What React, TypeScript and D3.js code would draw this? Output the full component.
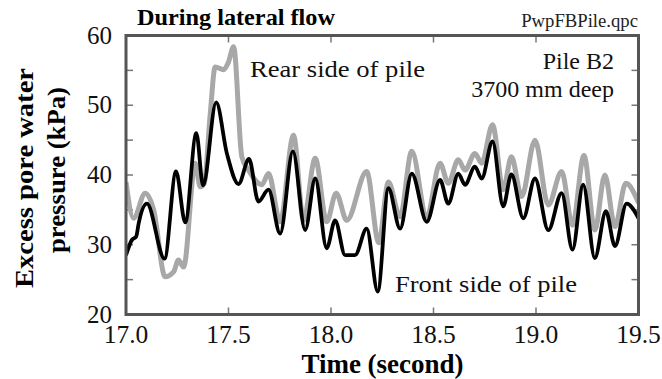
import React from "react";
import * as d3 from "d3";

const frontTime = [17.0, 17.029, 17.05, 17.062, 17.102, 17.188, 17.244, 17.289, 17.343, 17.376, 17.44, 17.492, 17.549, 17.6, 17.646, 17.695, 17.752, 17.814, 17.874, 17.923, 17.979, 18.02, 18.069, 18.117, 18.174, 18.228, 18.28, 18.337, 18.394, 18.467, 18.532, 18.572, 18.621, 18.654, 18.702, 18.735, 18.788, 18.84, 18.88, 18.938, 18.995, 19.06, 19.125, 19.178, 19.23, 19.287, 19.341, 19.385, 19.442, 19.5];
const frontPwp = [28.5, 30.7, 31.2, 33.1, 35.9, 28.0, 40.5, 33.2, 46.0, 38.5, 50.4, 43.1, 38.7, 42.3, 36.2, 37.9, 31.6, 43.4, 32.1, 39.5, 29.5, 33.5, 28.5, 28.5, 32.3, 23.3, 38.1, 32.3, 40.2, 33.3, 39.3, 35.9, 40.2, 38.6, 41.2, 39.5, 44.8, 35.5, 40.1, 33.8, 39.5, 32.1, 37.4, 29.3, 38.6, 28.1, 34.8, 29.8, 35.9, 33.8];

const rearTime = [17.0, 17.037, 17.094, 17.135, 17.191, 17.232, 17.256, 17.281, 17.338, 17.362, 17.382, 17.411, 17.435, 17.476, 17.5, 17.525, 17.565, 17.598, 17.663, 17.695, 17.752, 17.817, 17.866, 17.923, 17.979, 18.025, 18.077, 18.174, 18.233, 18.28, 18.337, 18.394, 18.467, 18.532, 18.572, 18.621, 18.654, 18.702, 18.735, 18.788, 18.84, 18.88, 18.93, 18.995, 19.06, 19.125, 19.178, 19.234, 19.287, 19.336, 19.385, 19.438, 19.5];
const rearPwp = [39.0, 33.8, 37.4, 35.0, 25.4, 26.1, 27.8, 26.8, 41.7, 38.3, 38.8, 48.8, 55.5, 55.1, 56.2, 58.4, 42.6, 40.7, 38.6, 40.2, 33.3, 45.7, 33.5, 42.4, 33.3, 37.4, 33.5, 40.5, 30.3, 39.0, 34.0, 43.4, 34.0, 41.7, 38.8, 42.2, 40.7, 43.1, 41.7, 47.2, 37.9, 42.6, 36.9, 45.0, 35.7, 40.5, 32.8, 42.8, 32.1, 40.0, 32.6, 38.8, 36.0];

const xTicks = [17.0, 17.5, 18.0, 18.5, 19.0, 19.5];
const yTicks = [20, 30, 40, 50, 60];
const yMinorTicks = [25, 30, 35, 40, 45, 50, 55];
const xInnerTicks = [17.5, 18.0, 18.5, 19.0];

const W = 662;
const H = 379;
const left = 126;
const right = 638.5;
const top = 35.5;
const bottom = 314.5;

const SERIF = '"Liberation Serif", "Times New Roman", Times, "DejaVu Serif", serif';

export default function App() {
  const x = d3.scaleLinear().domain([17, 19.5]).range([left, right]);
  const y = d3.scaleLinear().domain([20, 60]).range([bottom, top]);

  const line = d3
    .line<[number, number]>()
    .x((d) => x(d[0]))
    .y((d) => y(d[1]))
    .curve(d3.curveMonotoneX);

  const front = frontTime.map((t, i) => [t, frontPwp[i]] as [number, number]);
  const rear = rearTime.map((t, i) => [t, rearPwp[i]] as [number, number]);

  const tickLen = 7;
  const ts = { fontFamily: SERIF };

  return (
    <svg
      width={W}
      height={H}
      style={{ position: "absolute", left: 0, top: 0, background: "#fff", fontFamily: SERIF }}
    >
      <defs>
        <clipPath id="plot">
          <rect x={left} y={top} width={right - left} height={bottom - top} />
        </clipPath>
      </defs>
      <rect x={0} y={0} width={W} height={H} fill="#fff" />

      {xInnerTicks.map((t) => (
        <g key={"xt" + t} stroke="#777" strokeWidth={1.5}>
          <line x1={x(t)} x2={x(t)} y1={bottom} y2={bottom - tickLen} />
          <line x1={x(t)} x2={x(t)} y1={top} y2={top + tickLen} />
        </g>
      ))}
      {yMinorTicks.map((v) => (
        <g key={"yt" + v} stroke="#777" strokeWidth={1.5}>
          <line x1={left} x2={left + tickLen} y1={y(v)} y2={y(v)} />
          <line x1={right} x2={right - tickLen} y1={y(v)} y2={y(v)} />
        </g>
      ))}

      <g clipPath="url(#plot)">
        <path d={line(rear) || ""} fill="none" stroke="#a8a8a8" strokeWidth={5} strokeLinejoin="round" />
        <path d={line(front) || ""} fill="none" stroke="#000" strokeWidth={3.8} strokeLinejoin="round" />
      </g>

      <rect x={left} y={top} width={right - left} height={bottom - top} fill="none" stroke="#555" strokeWidth={3} />

      {yTicks.map((v) => (
        <text key={"yl" + v} style={ts} x={112} y={y(v)} dy="0.32em" textAnchor="end" fontSize={25} fill="#111">
          {v}
        </text>
      ))}
      {xTicks.map((t) => (
        <text key={"xl" + t} style={ts} x={x(t)} y={343} textAnchor="middle" fontSize={25.5} fill="#111">
          {t.toFixed(1)}
        </text>
      ))}

      <text style={ts} x={382.5} y={373} textAnchor="middle" fontSize={27} fontWeight="bold" fill="#000">
        Time (second)
      </text>
      <text
        style={ts}
        transform="translate(33,178) rotate(-90)"
        textAnchor="middle"
        fontSize={26}
        fontWeight="bold"
        fill="#000"
        textLength={220}
        lengthAdjust="spacingAndGlyphs"
      >
        Excess pore water
      </text>
      <text
        style={ts}
        transform="translate(65,170) rotate(-90)"
        textAnchor="middle"
        fontSize={26}
        fontWeight="bold"
        fill="#000"
        textLength={166}
        lengthAdjust="spacingAndGlyphs"
      >
        pressure (kPa)
      </text>

      <text style={ts} x={137} y={25} fontSize={23} fontWeight="bold" fill="#000" textLength={198} lengthAdjust="spacingAndGlyphs">
        During lateral flow
      </text>
      <text style={ts} x={638} y={27} textAnchor="end" fontSize={18.7} fill="#222">
        PwpFBPile.qpc
      </text>

      <text style={ts} x={250} y={77} fontSize={24} fill="#111" textLength={175} lengthAdjust="spacingAndGlyphs">
        Rear side of pile
      </text>
      <text style={ts} x={614} y={69} textAnchor="end" fontSize={24} fill="#111">
        Pile B2
      </text>
      <text style={ts} x={614} y={97} textAnchor="end" fontSize={24} fill="#111">
        3700 mm deep
      </text>
      <text style={ts} x={395} y={292} fontSize={24} fill="#111" textLength={182} lengthAdjust="spacingAndGlyphs">
        Front side of pile
      </text>
    </svg>
  );
}
